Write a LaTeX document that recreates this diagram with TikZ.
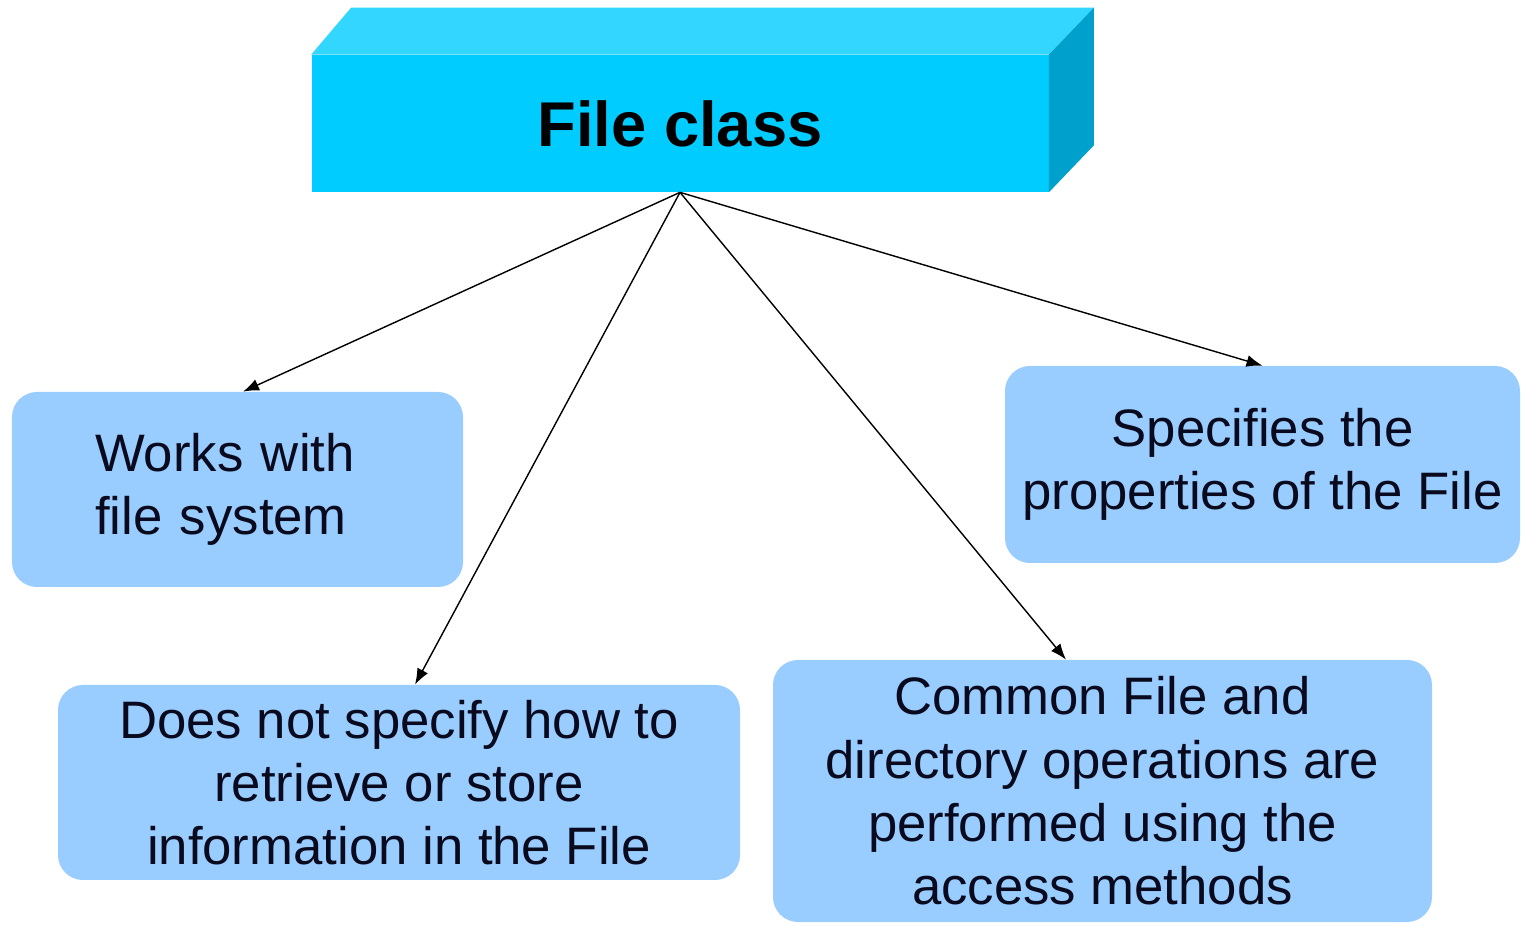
\documentclass[tikz,border=0pt]{standalone}
\usepackage{fontspec}
\setmainfont{Liberation Sans}
\usetikzlibrary{arrows.meta,positioning}
\definecolor{c1}{RGB}{0,204,255}
\definecolor{c2}{RGB}{51,214,255}
\definecolor{c3}{RGB}{0,160,204}
\definecolor{c4}{RGB}{153,204,255}
\definecolor{ink}{RGB}{10,10,30}

\begin{document}
\begin{tikzpicture}[
    front/.style={rectangle, fill=c1, minimum width=14.74cm, minimum height=2.74cm, inner sep=0pt, font=\fontsize{36}{43}\selectfont\bfseries, text=black},
    info/.style={rectangle, rounded corners=0.5cm, fill=c4, inner sep=0pt, font=\fontsize{30}{36}\selectfont, text=ink},
    link/.style={-{Latex[length=0.32cm,width=0.24cm]}, line width=0.8pt, black}
]
    \useasboundingbox (0,0) rectangle (30.42,18.5);

    % Main class block (front face)
    \node[front] (main) at (13.6, 16.03) {File class};

    % Top and side faces of the block
    \fill[c2] (main.north west) -- ++(0.8, 0.94) -- ([shift={(0.9,0.94)}]main.north east) -- (main.north east) -- cycle;
    \fill[c3] (main.north east) -- ++(0.9, 0.94) -- ([shift={(0.9,0.94)}]main.south east) -- (main.south east) -- cycle;

    % Feature boxes
    \node[info, minimum width=9.02cm, minimum height=3.9cm, text width=5.7cm, align=left] (fs) at (4.75, 8.71) {Works with\\file system};
    \node[info, minimum width=13.64cm, minimum height=3.9cm, align=center] (store) at (7.98, 2.85) {Does not specify how to\\retrieve or store\\information in the File};
    \node[info, minimum width=13.18cm, minimum height=5.24cm, align=center] (ops) at (22.05, 2.68) {Common File and\\directory operations are\\performed using the\\access methods};
    \node[info, minimum width=10.3cm, minimum height=3.94cm, align=center] (props) at (25.25, 9.21) {Specifies the\\properties of the File};

    % Arrows from the class block
    \draw[link] (main.south) -- ([xshift=0.11cm]fs.north);
    \draw[link] (main.south) -- ([xshift=0.32cm]store.north);
    \draw[link] (main.south) -- ([xshift=-0.73cm]ops.north);
    \draw[link] (main.south) -- (props.north);
\end{tikzpicture}
\end{document}
